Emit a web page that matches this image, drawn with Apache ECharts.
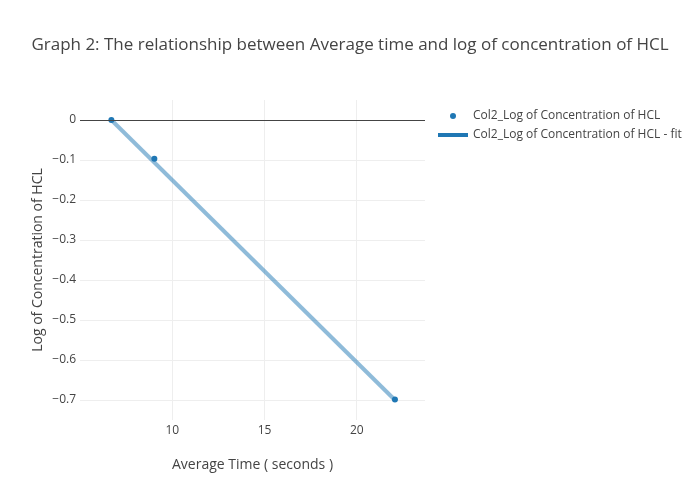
<!DOCTYPE html>
<html>
<head>
<meta charset="utf-8">
<script src="https://cdn.jsdelivr.net/npm/echarts@6/dist/echarts.min.js"></script>
<style>html,body{margin:0;padding:0;background:#fff}#c{width:700px;height:500px}</style>
</head>
<body>
<div id="c"></div>
<script>
const titleText = 'Graph 2: The relationship between Average time and log of concentration of HCL';
const seriesNames = ['Col2_Log of Concentration of HCL', 'Col2_Log of Concentration of HCL - fit'];
const avgTime = [6.7, 9.03, 22.07];
const logConc = [0, -0.0969, -0.699];
const fitTime = [6.7, 22.07];
const fitLog = [0.0, -0.70];
const xTicks = [10, 15, 20];
const yTicks = [0, -0.1, -0.2, -0.3, -0.4, -0.5, -0.6, -0.7];

const font = '"Open Sans", "Noto Sans", sans-serif';
const fmt = v => String(v).replace('-', '\u2212');
const chart = echarts.init(document.getElementById('c'), null, {renderer: 'canvas'});
chart.setOption({
  animation: false,
  backgroundColor: '#fff',
  title: {
    text: titleText, left: 'center', top: 32,
    textStyle: {fontFamily: font, fontSize: 17, fontWeight: 'normal', color: '#444'}
  },
  legend: [
    {
      data: [{name: seriesNames[0], icon: 'circle', itemStyle: {color: '#1f77b4', opacity: 1}}],
      left: 450, top: 110, padding: 0, itemWidth: 6, itemHeight: 6, orient: 'vertical',
      textStyle: {fontFamily: font, fontSize: 12, color: '#444', padding: [0, 0, 0, 12]}
    },
    {
      data: [{name: seriesNames[1], icon: 'rect', itemStyle: {color: '#1f77b4', opacity: 1}}],
      left: 438, top: 129, padding: 0, itemWidth: 30, itemHeight: 4, orient: 'vertical',
      textStyle: {fontFamily: font, fontSize: 12, color: '#444'}
    }
  ],
  grid: {left: 80, right: 275, top: 100, bottom: 80, containLabel: false},
  xAxis: {
    type: 'value', min: 5, max: 23.7, interval: 5,
    name: 'Average Time ( seconds )', nameLocation: 'middle', nameGap: 38,
    nameTextStyle: {fontFamily: font, fontSize: 14, color: '#444'},
    axisLine: {show: false}, axisTick: {show: false},
    axisLabel: {
      fontFamily: font, fontSize: 12, color: '#444', margin: 5,
      showMinLabel: false, showMaxLabel: false,
      formatter: v => xTicks.includes(v) ? fmt(v) : ''
    },
    splitLine: {show: true, showMinLine: false, showMaxLine: false, lineStyle: {color: '#eee', width: 1}}
  },
  yAxis: {
    type: 'value', min: -0.75, max: 0.05, interval: 0.05,
    name: 'Log of Concentration of HCL', nameLocation: 'middle', nameGap: 35,
    nameTextStyle: {fontFamily: font, fontSize: 14, color: '#444'},
    axisLine: {show: false}, axisTick: {show: false},
    axisLabel: {
      fontFamily: font, fontSize: 12, color: '#444', margin: 4,
      formatter: v => {
        const r = Math.round(v * 10) / 10;
        if (Math.abs(v - r) > 1e-6) return '';
        const hit = yTicks.find(t => Math.abs(t - r) < 1e-6);
        return hit === undefined ? '' : fmt(hit === 0 ? 0 : hit);
      }
    },
    splitLine: {show: true, lineStyle: {color: ['rgba(0,0,0,0)', '#eee'], width: 1}}
  },
  series: [
    {
      name: seriesNames[1], type: 'line',
      data: fitTime.map((x, i) => [x, fitLog[i]]),
      showSymbol: false, symbol: 'none',
      lineStyle: {color: '#1f77b4', width: 4, opacity: 0.5},
      itemStyle: {color: '#1f77b4'},
      z: 2,
      markLine: {
        silent: true, symbol: 'none', label: {show: false},
        lineStyle: {color: '#444', width: 1, type: 'solid', opacity: 1},
        data: [{yAxis: 0}]
      }
    },
    {
      name: seriesNames[0], type: 'scatter',
      data: avgTime.map((x, i) => [x, logConc[i]]),
      symbol: 'circle', symbolSize: 6,
      itemStyle: {color: '#1f77b4', opacity: 1},
      z: 3
    }
  ]
});
</script>
</body>
</html>
